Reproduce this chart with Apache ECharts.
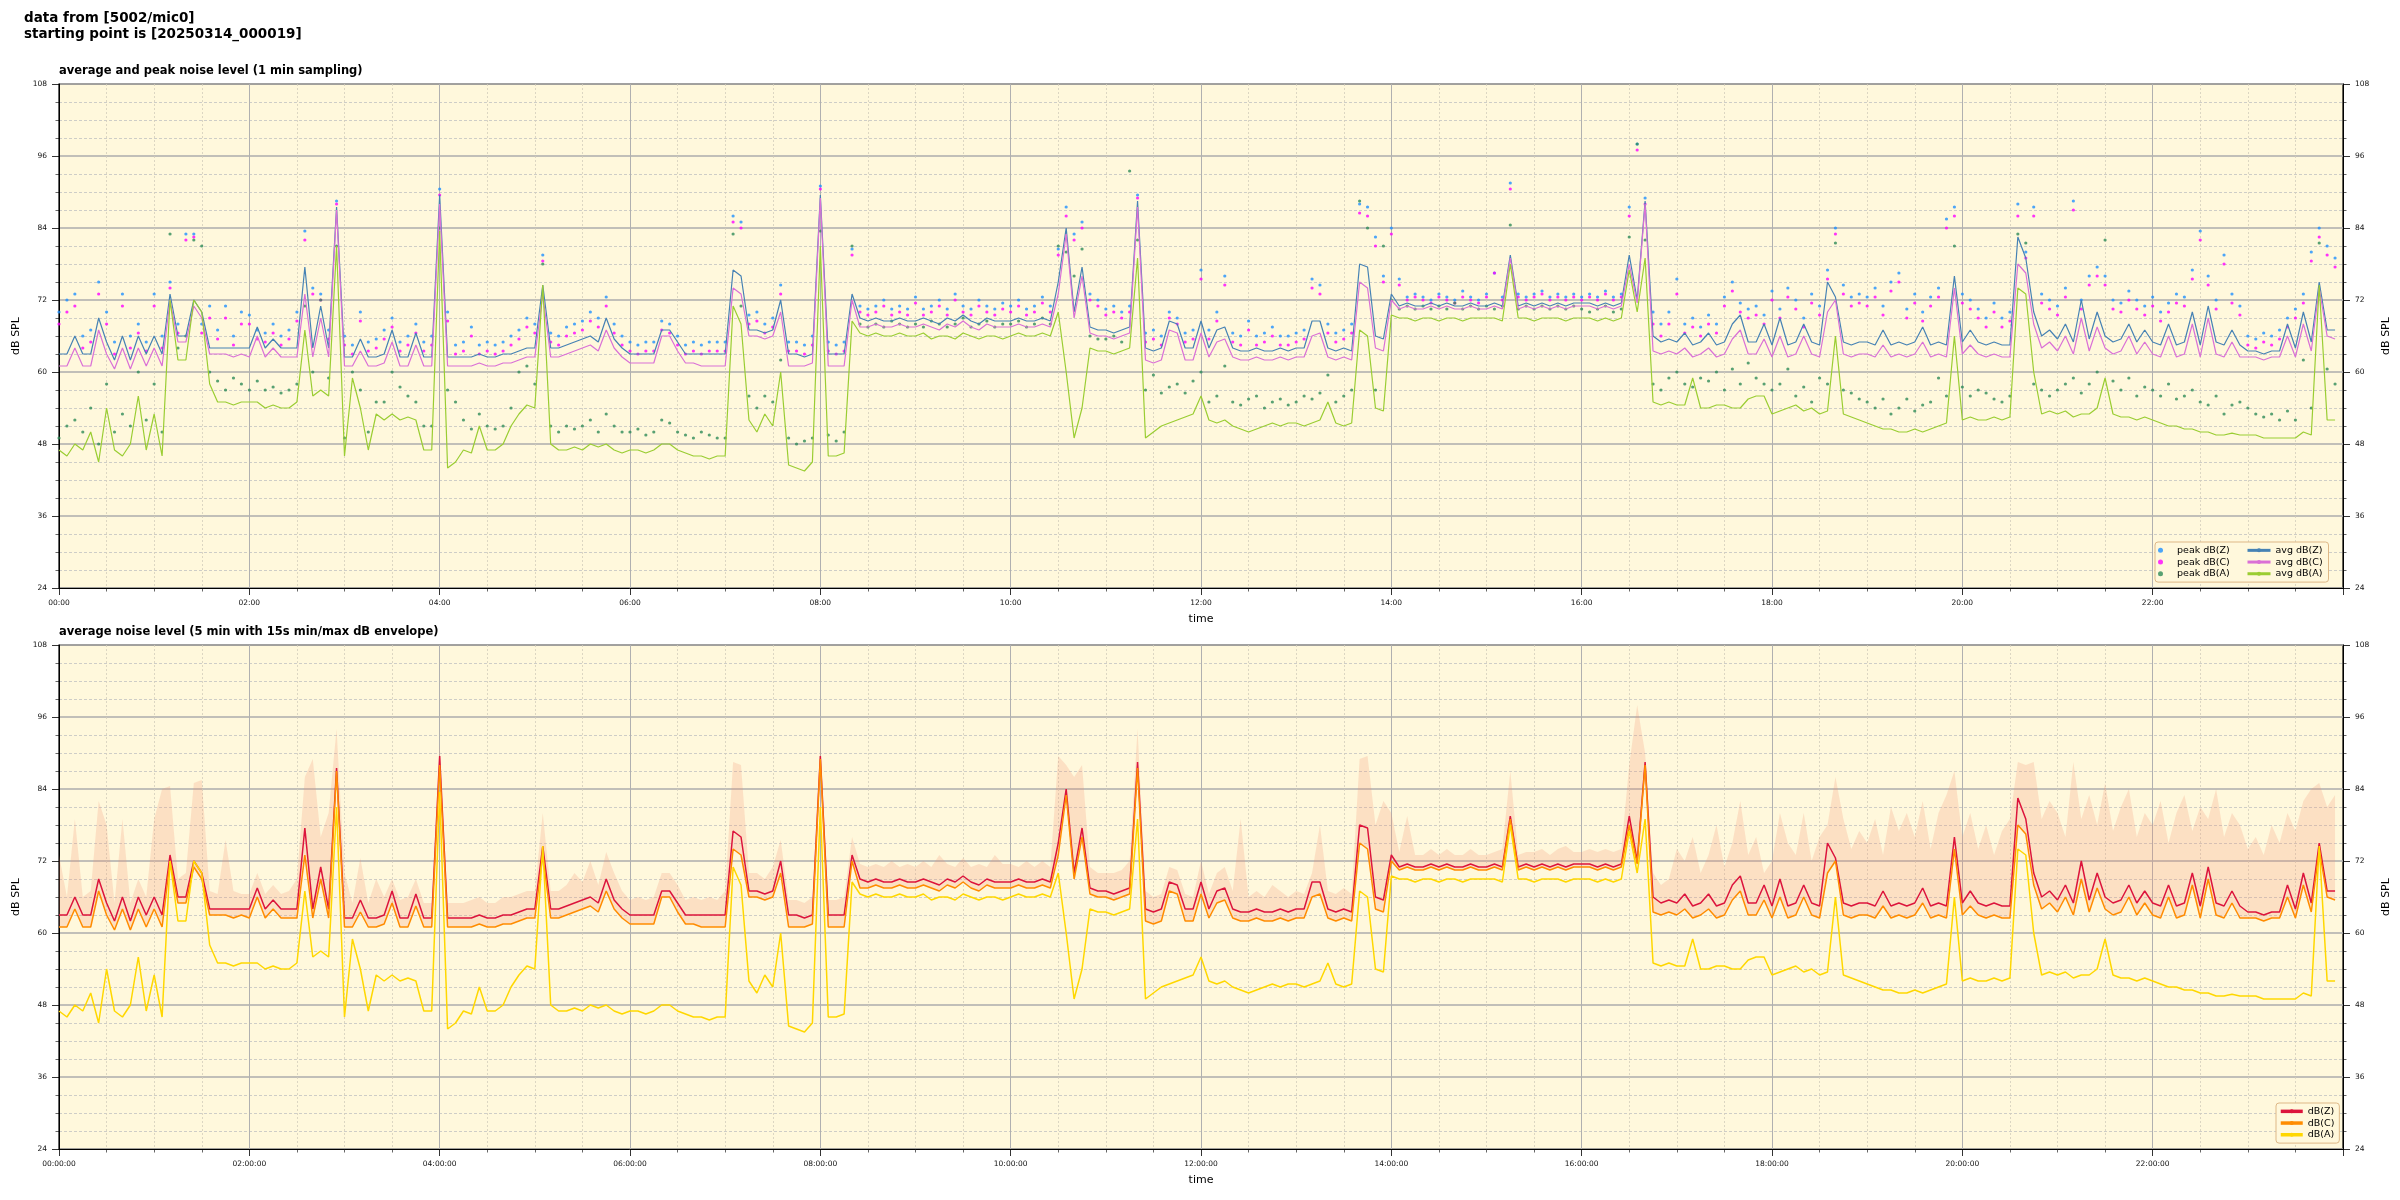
<!DOCTYPE html>
<html><head><meta charset="utf-8">
<script src="https://cdn.jsdelivr.net/npm/echarts@6/dist/echarts.min.js"></script>
<style>html,body{margin:0;padding:0;background:#fff}#c{width:2400px;height:1200px}</style>
</head><body><div id="c"></div>
<script>
// 5-minute samples, 00:00 .. 23:55 (one row per hour)
const avgZ = [
63,63,66,63,63,69,65,62,66,62,66,63,
66,63,73,66,66,72,70,64,64,64,64,64,
64,67.5,64,65.5,64,64,64,77.5,64,71,64,87.5,
62.5,62.5,65.5,62.5,62.5,63,67,62.5,62.5,66.5,62.5,62.5,
89.5,62.5,62.5,62.5,62.5,63,62.5,62.5,63,63,63.5,64,
64,74.5,64,64,64.5,65,65.5,66,65,69,65.5,64,
63,63,63,63,67,67,65,63,63,63,63,63,
63,77,76,67,67,66.5,67,72,63,63,62.5,63,
89.5,63,63,63,73,69,68.5,69,68.5,68.5,69,68.5,
68.5,69,68.5,68,69,68.5,69.5,68.5,68,69,68.5,68.5,
68.5,69,68.5,68.5,69,68.5,75,84,70,77.5,67.5,67,
67,66.5,67,67.5,88.5,64,63.5,64,68.5,68,64,64,
68.5,64,67,67.5,64,63.5,63.5,64,63.5,63.5,64,63.5,
64,64,68.5,68.5,64,63.5,64,63.5,78,77.5,66,65.5,
73,71,71.5,71,71,71.5,71,71.5,71,71,71.5,71,
71,71.5,71,79.5,71,71.5,71,71.5,71,71.5,71,71.5,
71.5,71.5,71,71.5,71,71.5,79.5,72,88.5,66,65,65.5,
65,66.5,64.5,65,66.5,64.5,65,68,69.5,65,65,68,
64.5,69,64.5,65,68,65,64.5,75,72.5,65,64.5,65,
65,64.5,67,64.5,65,64.5,65,67.5,64.5,65,64.5,76,
65,67,65,64.5,65,64.5,64.5,82.5,79,70,66,67,
65.5,68,65,72,65.5,70,66,65,65.5,68,65,67,
65,64.5,68,64.5,65,70,64.5,71,65,64.5,67,64.5,
63.5,63.5,63,63.5,63.5,68,64,70,65,75,67,67
];
const avgC = [
61,61,64,61,61,67,63,60.5,64,60.5,64,61,
64,61,72,65,65,71,69,63,63,63,62.5,63,
62.5,66,62.5,64,62.5,62.5,62.5,73,62.5,69,62.5,87,
61,61,63.5,61,61,61.5,65,61,61,64.5,61,61,
88,61,61,61,61,61.5,61,61,61.5,61.5,62,62.5,
62.5,73,62.5,62.5,63,63.5,64,64.5,63.5,67,64,62.5,
61.5,61.5,61.5,61.5,66,66,63.5,61.5,61.5,61,61,61,
61,74,73,66,66,65.5,66,70,61,61,61,61.5,
89,61,61,61,72,67.5,67.5,68,67.5,67.5,68,67.5,
67.5,68,67.5,67,68,67.5,68.5,67.5,67,68,67.5,67.5,
67.5,68,67.5,67.5,68,67.5,73,83,69,76,66.5,66,
66,65.5,66,66.5,87.5,62,61.5,62,67,66.5,62,62,
66.5,62.5,65,65.5,62.5,62,62,62.5,62,62,62.5,62,
62.5,62.5,66,66.5,62.5,62,62.5,62,75,74,64,63.5,
72,70.5,71,70.5,70.5,71,70.5,71,70.5,70.5,71,70.5,
70.5,71,70.5,79,70.5,71,70.5,71,70.5,71,70.5,71,
71,71,70.5,71,70.5,71,78,71.5,88,63.5,63,63.5,
63,64,62.5,63,64,62.5,63,65.5,67,63,63,65.5,
62.5,66,62.5,63,66,63,62.5,70,72,63,62.5,63,
63,62.5,64.5,62.5,63,62.5,63,65,62.5,63,62.5,74,
63,64.5,63,62.5,63,62.5,62.5,78,76.5,68,64,65,
63.5,66,63,69,63.5,67.5,64,63,63.5,66,63,65,
63,62.5,66,62.5,63,68,62.5,69,63,62.5,65,62.5,
62.5,62.5,62,62.5,62.5,66,62.5,68,63.5,74,66,65.5
];
const avgA = [
47,46,48,47,50,45,54,47,46,48,56,47,
53,46,72,62,62,72,70,58,55,55,54.5,55,
55,55,54,54.5,54,54,55,67,56,57,56,81,
46,59,54,47,53,52,53,52,52.5,52,47,47,
83.5,44,45,47,46.5,51,47,47,48,51,53,54.5,
54,74.5,48,47,47,47.5,47,48,47.5,48,47,46.5,
47,47,46.5,47,48,48,47,46.5,46,46,45.5,46,
46,71,68,52,50,53,51,60,44.5,44,43.5,45,
81,46,46,46.5,68.5,66.5,66,66.5,66,66,66.5,66,
66,66.5,65.5,66,66,65.5,66.5,66,65.5,66,66,65.5,
66,66.5,66,66,66.5,66,70,60,49,54,64,63.5,
63.5,63,63.5,64,79,49,50,51,51.5,52,52.5,53,
56,52,51.5,52,51,50.5,50,50.5,51,51.5,51,51.5,
51.5,51,51.5,52,55,51.5,51,51.5,67,66,54,53.5,
69.5,69,69,68.5,69,69,68.5,69,69,68.5,69,69,
69,69,68.5,78,69,69,68.5,69,69,69,68.5,69,
69,69,68.5,69,68.5,69,77,70,79,55,54.5,55,
54.5,54.5,59,54,54,54.5,54.5,54,54,55.5,56,56,
53,53.5,54,54.5,53.5,54,53,53.5,66,53,52.5,52,
51.5,51,50.5,50.5,50,50,50.5,50,50.5,51,51.5,66,
52,52.5,52,52,52.5,52,52.5,74,73,60,53,53.5,
53,53.5,52.5,53,53,54,59,53,52.5,52.5,52,52.5,
52,51.5,51,51,50.5,50.5,50,50,49.5,49.5,49.8,49.5,
49.5,49.5,49,49,49,49,49,50,49.5,74.5,52,52
];
const peakZ = [
70,72,73,66,67,75,70,65,73,66,68,65,
73,66,75,68,83,83,68,71,67,71,66,70,
69.5,67,66.5,68,66,67,70,83.5,74,73,67,88.5,
66,64.5,70,65,65.5,67,69,65,66,68,65,66,
90.5,70,64.5,65,67.5,64.5,65,64.5,65,66,67,69,
68,79.5,66.5,66,67.5,68,68.5,70,69,72.5,68,66,
65,64.5,65,65,68.5,68,66,64.5,65,64.5,65,65,
65,86,85,69.5,70,68,69,74.5,65,65,64.5,66,
91,65,64.5,65,80.5,71,70.5,71,72,70.5,71,70.5,
72.5,70.5,71,72,70.5,73,71,70.5,72,71,70.5,71.5,
71,72,70.5,71,72.5,71,80.5,87.5,83,85,73,72,
70.5,71,70,71,89.5,66.5,67,66,70,69,66.5,67,
77,67,70,76,66.5,66,68.5,66,66.5,67.5,66,66,
66.5,67,75.5,74.5,68,66.5,67,68,88,87.5,82.5,76,
84,75.5,72.5,73,72.5,72,73,72.5,72,73.5,72.5,72,
73,76.5,72.5,91.5,73,72.5,73,73.5,72.5,73,72.5,73,
72.5,73,72.5,73.5,72.5,73,87.5,98,89,70,68,70,
75.5,68,69,67.5,69.5,68,72.5,75,71.5,70.5,71,69.5,
73.5,70.5,74,72,69,73,71,77,84,74.5,72.5,73,
72.5,74,71,75,76.5,70.5,73,70,72.5,74,85.5,87.5,
73,72,70.5,69,71.5,69,70,88,80,87.5,73,72,
71,74,88.5,72,76,77.5,76,72,71.5,73.5,72,71,
72.5,70,71.5,73,72.5,77,83.5,76,72,79.5,73,71,
66,65.5,66.5,66,67,69,70.5,73,80,84,81,79
];
const peakC = [
68,70,71,64,65,73,68,63,71,64,66.5,63.5,
71,64,74,66.5,82,82.5,66.5,69,65.5,69,64.5,68,
68,65.5,65,66.5,64.5,65.5,68.5,82,73,72,65.5,88,
64.5,63,68.5,63.5,64,65.5,67.5,63.5,64.5,66.5,63.5,64.5,
89.5,68.5,63,63.5,66,63,63.5,63,63.5,64.5,65.5,67.5,
66.5,78.5,65,64.5,66,66.5,67,68.5,67.5,71,66.5,64.5,
63.5,63,63.5,63.5,67,66.5,64.5,63,63.5,63,63.5,63.5,
63.5,85,84,68,68.5,66.5,67.5,73,63.5,63.5,63,64.5,
90.5,63.5,63,63.5,79.5,70,69.5,70,71,69.5,70,69.5,
71.5,69.5,70,71,69.5,72,70,69.5,71,70,69.5,70.5,
70,71,69.5,70,71.5,70,79.5,86,82,84,72,71,
69.5,70,69,70,89,65,65.5,64.5,69,68,65,65.5,
75.5,65.5,68.5,74.5,65,64.5,67,64.5,65,66,64.5,64.5,
65,65.5,74,73,66.5,65,65.5,66.5,86.5,86,81,75,
83,74.5,72,72.5,72,71.5,72.5,72,71.5,72.5,72,71.5,
72.5,76.5,72,90.5,72.5,72,72.5,73,72,72.5,72,72.5,
72,72.5,72,73,72,72.5,86,97,88,68,66,68,
73,66.5,67.5,66,68,66.5,71,73.5,70,69,69.5,68,
72,69,72.5,70.5,67.5,71.5,69.5,75.5,83,73,71,71.5,
71,72.5,69.5,73.5,75,69,71.5,68.5,71,72.5,84,86,
71.5,70.5,69,67.5,70,67.5,68.5,86,79,86,71.5,70.5,
69.5,72.5,87,70.5,74.5,76,74.5,70.5,70,72,70.5,69.5,
71,68.5,70,71.5,71,75.5,82,74.5,70.5,78,71.5,69.5,
64.5,64,65,64.5,65.5,67.5,69,71.5,78.5,82.5,79.5,77.5
];
const peakA = [
49,51,52,50,54,48,58,50,53,51,60,52,
58,50,83,64,66,82,81,60,58.5,57,59,58,
57,58.5,57,57.5,56.5,57,58,71,60,72,59,81,
49,60,57,50,55,55,60,57.5,56,55,51,51,
84,57,55,52,50.5,53,51,50.5,51,54,60,61,
58,78,51,50,51,50.5,51,52,50,53,51,50,
50,50.5,49.5,50,52,51.5,50,49.5,49,50,49.5,49,
49,83,71,56,54,56,55,62,49,48,48.5,49,
83.5,49.5,48.5,50,81,68,67.5,68,67.5,68.5,68,67.5,
68,67.5,68.5,68,67.5,68,69,67.5,68,68.5,67.5,68,
68,68.5,67.5,68,69,68,81,80,76,80.5,66,65.5,
65.5,66,65,93.5,82,57,59.5,56.5,57.5,58,56.5,58.5,
60,55,56,61,55,54.5,55.5,56,54,55,55.5,54.5,
55,56,55.5,56.5,59.5,55,56,57,88.5,84,57,81,
72,70.5,71,70.5,71,70.5,71,70.5,71.5,70.5,71,70.5,
71,70.5,71,84.5,70.5,71,70.5,71,70.5,71,70.5,71,
70.5,70,70.5,71,70,70.5,82.5,98,82,58,57,59,
60,58,57.5,59,58.5,60,57,60.5,58,61.5,59,58,
57,58,60.5,56,57.5,55,59,58,81.5,57,56.5,55.5,
55,54,55.5,53,54,55.5,53.5,54.5,55,59,56,81,
57.5,56,57,56.5,55.5,55,56,83,81.5,58,57,56,
57,58,59,56.5,58,60,82,58.5,57,59,56,57.5,
57,56,58,55.5,56,57,55,54.5,56,53,54.5,55,
54,53,52.5,53,52,53.5,52,62,54,81.5,60.5,58
];
// 15 s max envelope (upper edge of the shaded band; lower edge is the dB(C) average)
const envMax = [
73,66,79,66,67,82,78,65,79,65,69,66,
79,84,84.5,69,70,85,85.5,67,66.5,75.5,67,66.5,
66.5,70,66.5,68,66.5,67,69,86,89,76,80,94,
70,65,72.5,65,69,66,69,65.5,66,69,65,65,
91.5,65,65,65,65.5,66,65,65,66,66,66.5,67,
67,80,67,67,68,70,68.5,72,68,73.5,70,67,
65.5,66,65.5,66,70,70,68,65.5,66,65.5,66,65.5,
67,88.5,88,70,70,69,71,75.5,65.5,65.5,65,66,
91.5,65.5,65.5,66,76,71.5,71,71.5,71,72,71,71.5,
71,72,71,73,71.5,71,72.5,71,71.5,71,73,71.5,
71.5,71,72,71,72,71,89.5,88,86,88,71,70,
70,70,70.5,72,94,67,66,66.5,71,70.5,66.5,66,
72,66.5,70,71,67,79,66,67,66,68,67,66,
67,66.5,70,78,67,66.5,67.5,66.5,89,89.5,78,82,
80,73.5,79.5,73,73,74,73,74,73,73,74,73,
73,73.5,74,87,73,73.5,73.5,74,73,74,74.5,73.5,
73.5,74,73.5,74,73.5,74,88,98,90,70,68,69,
74,72,76,70,73,78,71,75,82,73,76,70,
72,80,75,73,80,72,76,78,86,79,74,77,
75,79,73,81,77,80,76,82,74,80,83,87,
76,80,74,78,73,77,79,88.5,88,88.5,79,82,
80,76,88.5,79,83,78,85,77,81,84,76,80,
78,82,75,80,83,77,81,79,84,76,80,78,
74,76,73,78,75,80,77,82,84,85,81,83
];
const stepMinutes = 5;
const yMin = 24, yMax = 108, yStep = 12;
const xMin = 0, xMax = 1440, xStep = 120;

const FONT = 'DejaVu Sans';
const times = avgZ.map((_, i) => i * stepMinutes);
const pair = arr => arr.map((v, i) => [times[i], v]);
const envData = envMax.map((v, i) => [times[i], avgC[i], v]);
const p2 = n => String(n).padStart(2, '0');
const fmt = sec => v => p2(Math.floor(v / 60)) + ':' + p2(v % 60) + (sec ? ':00' : '');

function yAx(gridIndex, right) {
  return {
    type: 'value', gridIndex, position: right ? 'right' : 'left',
    min: yMin, max: yMax, interval: yStep,
    name: 'dB SPL', nameLocation: 'middle', nameRotate: 90, nameGap: right ? 33 : 35,
    nameTextStyle: { fontFamily: FONT, fontSize: 11, color: '#000' },
    axisLine: { show: true, onZero: false, lineStyle: { color: '#000', width: 1 } },
    axisTick: { show: true, length: 7, lineStyle: { color: '#000', width: 0.8 } },
    minorTick: { show: true, splitNumber: 4, length: 3.5, lineStyle: { color: '#000', width: 0.6 } },
    axisLabel: { fontFamily: FONT, fontSize: 7.5, color: '#111', margin: 12 },
    splitLine: { show: !right, lineStyle: { color: '#adadad', width: 1.6 } },
    minorSplitLine: { show: !right, lineStyle: { color: '#c2c2c2', width: 0.8, type: [3, 2] } }
  };
}
function xAx(gridIndex, sec) {
  return {
    type: 'value', gridIndex, min: xMin, max: xMax, interval: xStep,
    name: 'time', nameLocation: 'middle', nameGap: 26,
    nameTextStyle: { fontFamily: FONT, fontSize: 11, color: '#000' },
    axisLine: { onZero: false, lineStyle: { color: '#000', width: 1 } },
    axisTick: { length: 7, lineStyle: { color: '#000', width: 0.8 } },
    minorTick: { show: true, splitNumber: 4, length: 3.5, lineStyle: { color: '#000', width: 0.6 } },
    axisLabel: { fontFamily: FONT, fontSize: 7.5, color: '#111', margin: 11, showMaxLabel: false, formatter: fmt(sec) },
    splitLine: { show: true, lineStyle: { color: '#b0b0b0', width: 1 } },
    minorSplitLine: { show: true, lineStyle: { color: '#d4cdbb', width: 0.8, type: [2, 2] } }
  };
}
const gridBase = { left: 59, right: 57, height: 504, show: true, backgroundColor: '#fff8dc', borderColor: '#000', borderWidth: 1.2, containLabel: false };

function lineS(name, xi, yi, arr, color, w) {
  return { type: 'line', name, xAxisIndex: xi, yAxisIndex: yi, data: pair(arr), symbol: 'none', showSymbol: false,
    lineStyle: { color, width: w }, itemStyle: { color }, silent: true };
}
function dotS(name, arr, color) {
  return { type: 'scatter', name, xAxisIndex: 0, yAxisIndex: 0, data: pair(arr), symbol: 'circle', symbolSize: 3.2,
    itemStyle: { color }, silent: true };
}
// min/max envelope drawn as one polygon through the axis scales
function envRender(params, api) {
  if (params.dataIndex !== 0) return;
  const upper = envData.map(d => api.coord([d[0], d[2]]));
  const lower = envData.map(d => api.coord([d[0], d[1]])).reverse();
  return { type: 'polygon', shape: { points: upper.concat(lower) },
    style: { fill: 'rgba(240,140,110,0.22)', stroke: null } };
}

const chart = echarts.init(document.getElementById('c'), null, { renderer: 'canvas' });
chart.setOption({
  animation: false,
  backgroundColor: '#fff',
  textStyle: { fontFamily: FONT },
  title: [
    { text: 'data from [5002/mic0]\nstarting point is [20250314_000019]', left: 24, top: 10, padding: 0,
      textStyle: { fontFamily: FONT, fontSize: 13.5, fontWeight: 'bold', lineHeight: 16, color: '#000' } },
    { text: 'average and peak noise level (1 min sampling)', left: 59, top: 64, padding: 0,
      textStyle: { fontFamily: FONT, fontSize: 11.5, fontWeight: 'bold', lineHeight: 14, color: '#000' } },
    { text: 'average noise level (5 min with 15s min/max dB envelope)', left: 59, top: 625, padding: 0,
      textStyle: { fontFamily: FONT, fontSize: 11.5, fontWeight: 'bold', lineHeight: 14, color: '#000' } }
  ],
  grid: [ Object.assign({ top: 84 }, gridBase), Object.assign({ top: 645 }, gridBase) ],
  xAxis: [ xAx(0, false), xAx(1, true) ],
  yAxis: [ yAx(0, false), yAx(0, true), yAx(1, false), yAx(1, true) ],
  legend: [
    { left: 2155, top: 542, width: 190, orient: 'horizontal', itemGap: 1, itemWidth: 23, itemHeight: 5, padding: 3,
      backgroundColor: '#fff8dc', borderColor: '#deb887', borderWidth: 1, borderRadius: 3, selectedMode: false,
      textStyle: { fontFamily: FONT, fontSize: 9.5, lineHeight: 10.7, color: '#000' },
      data: [
        { name: 'peak dB(Z)', icon: 'circle', textStyle: { width: 68 } },
        { name: 'avg dB(Z)', lineStyle: { width: 3 }, textStyle: { width: 50 } },
        { name: 'peak dB(C)', icon: 'circle', textStyle: { width: 68 } },
        { name: 'avg dB(C)', lineStyle: { width: 3 }, textStyle: { width: 50 } },
        { name: 'peak dB(A)', icon: 'circle', textStyle: { width: 68 } },
        { name: 'avg dB(A)', lineStyle: { width: 3 }, textStyle: { width: 50 } }
      ] },
    { left: 2276, top: 1103, orient: 'vertical', itemGap: 1, itemWidth: 22, itemHeight: 5, padding: [3, 5, 3, 3],
      backgroundColor: '#fff8dc', borderColor: '#deb887', borderWidth: 1, borderRadius: 3, selectedMode: false,
      textStyle: { fontFamily: FONT, fontSize: 9.5, lineHeight: 10.7, color: '#000' },
      data: [
        { name: 'dB(Z)', lineStyle: { width: 3.5 } },
        { name: 'dB(C)', lineStyle: { width: 3.5 } },
        { name: 'dB(A)', lineStyle: { width: 3.5 } }
      ] }
  ],
  series: [
    dotS('peak dB(Z)', peakZ, '#1e90ff'),
    dotS('peak dB(C)', peakC, '#ff00ff'),
    dotS('peak dB(A)', peakA, '#2e8b57'),
    lineS('avg dB(Z)', 0, 0, avgZ, '#4682b4', 1.2),
    lineS('avg dB(C)', 0, 0, avgC, '#da70d6', 1.2),
    lineS('avg dB(A)', 0, 0, avgA, '#9acd32', 1.2),
    { type: 'custom', name: 'envelope', xAxisIndex: 1, yAxisIndex: 2, data: envData,
      encode: { x: 0, y: [1, 2] }, renderItem: envRender, silent: true, clip: true },
    lineS('dB(Z)', 1, 2, avgZ, '#dc143c', 1.5),
    lineS('dB(C)', 1, 2, avgC, '#ff8c00', 1.5),
    lineS('dB(A)', 1, 2, avgA, '#ffd700', 1.5)
  ]
});
</script>
</body></html>
